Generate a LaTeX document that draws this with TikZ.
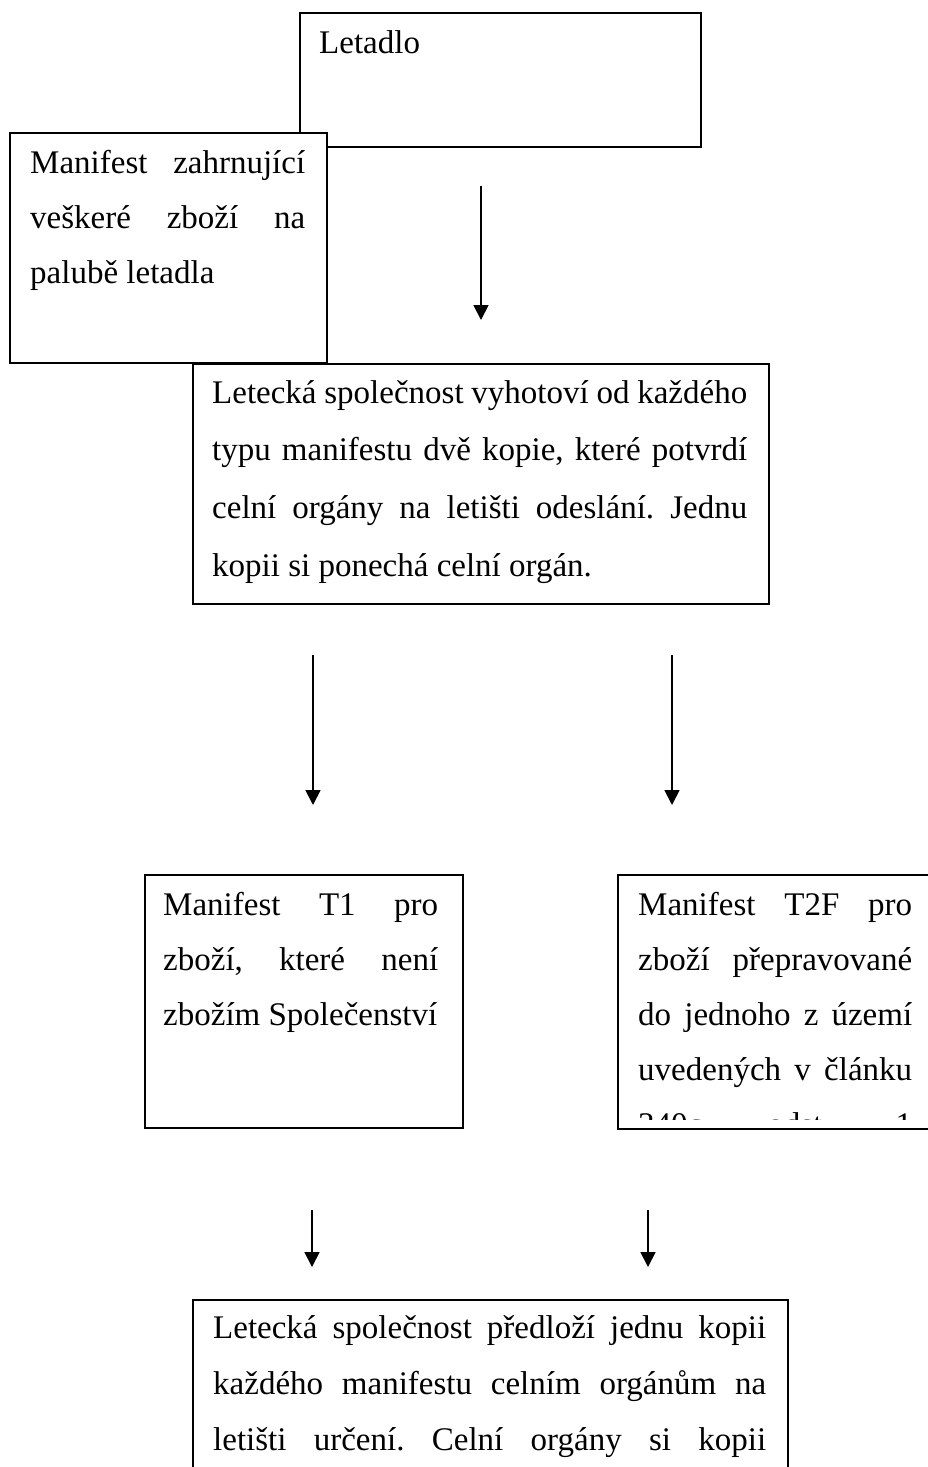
\documentclass[tikz,border=0pt]{standalone}
\usepackage{fontspec}
\setmainfont{Liberation Serif}
\usetikzlibrary{arrows.meta}
\frenchspacing

% one line of a text block: justified (\jline) or flush left (\lline)
\newdimen\linewd
\newcommand\jline[1]{\hbox to\linewd{#1}}
\newcommand\lline[1]{\hbox to\linewd{#1\hfil}}
% a block of lines whose baseline is that of its first line
\newcommand\textblock[2]{\vtop{\linewd=#1\relax\hsize=#1\relax #2}}

\tikzset{
  box/.style={draw=black, line width=1.6pt, fill=white, rectangle,
              anchor=north west, inner sep=0pt},
  txt/.style={anchor=base west, inner sep=0pt},
  arr/.style={line width=1.8pt, -{Triangle[width=15pt,length=15pt]}},
}

\begin{document}
\begin{tikzpicture}[x=1pt, y=-1pt]
\useasboundingbox (0,0) rectangle (928,1467);
\clip (0,0) rectangle (928,1467);

% boxes
\node[box, minimum width=401pt, minimum height=134pt] (letadlo) at (299,12) {};
\node[box, minimum width=317pt, minimum height=230pt] (manifest) at (9,132) {};
\node[box, minimum width=576pt, minimum height=240pt] (kopie) at (192,363) {};
\node[box, minimum width=318pt, minimum height=253pt] (t1) at (144,874) {};
\node[box, minimum width=360pt, minimum height=254pt] (t2f) at (617,874) {};
\node[box, minimum width=595pt, minimum height=260pt] (predlozi) at (192,1299) {};

% texts
\node[txt, font={\fontsize{33}{55}\selectfont}] (letadlo-t) at (319,53) {Letadlo};

\node[txt, font={\fontsize{33}{55}\selectfont}] (manifest-t) at (30,173) {\textblock{275pt}{%
  \jline{Manifest zahrnující}
  \jline{veškeré zboží na}
  \lline{palubě letadla}}};

\node[txt, font={\fontsize{33}{57.8}\selectfont}] (kopie-t) at (212,403) {\textblock{535pt}{%
  \jline{Letecká společnost vyhotoví od každého}
  \jline{typu manifestu dvě kopie, které potvrdí}
  \jline{celní orgány na letišti odeslání. Jednu}
  \lline{kopii si ponechá celní orgán.}}};

\node[txt, font={\fontsize{33}{55}\selectfont}] (t1-t) at (163,915) {\textblock{275pt}{%
  \jline{Manifest T1 pro}
  \jline{zboží, které není}
  \lline{zbožím Společenství}}};

\begin{scope}
  \clip (617,874) rectangle (928,1119);
  \node[txt, font={\fontsize{33}{55}\selectfont}] (t2f-t) at (638,915) {\textblock{274pt}{%
    \jline{Manifest T2F pro}
    \jline{zboží přepravované}
    \jline{do jednoho z území}
    \jline{uvedených v článku}
    \jline{340c odst. 1}}};
\end{scope}

\node[txt, font={\fontsize{33}{56}\selectfont}] (predlozi-t) at (213,1338) {\textblock{553pt}{%
  \jline{Letecká společnost předloží jednu kopii}
  \jline{každého manifestu celním orgánům na}
  \jline{letišti určení. Celní orgány si kopii}}};

% arrows
\coordinate (a1s) at (481,186);  \coordinate (a1e) at (481,320);
\coordinate (a2s) at (313,655);  \coordinate (a2e) at (313,805);
\coordinate (a3s) at (672,655);  \coordinate (a3e) at (672,805);
\coordinate (a4s) at (312,1210); \coordinate (a4e) at (312,1267);
\coordinate (a5s) at (648,1210); \coordinate (a5e) at (648,1267);
\draw[arr] (a1s) -- (a1e);
\draw[arr] (a2s) -- (a2e);
\draw[arr] (a3s) -- (a3e);
\draw[arr] (a4s) -- (a4e);
\draw[arr] (a5s) -- (a5e);
\end{tikzpicture}
\end{document}
